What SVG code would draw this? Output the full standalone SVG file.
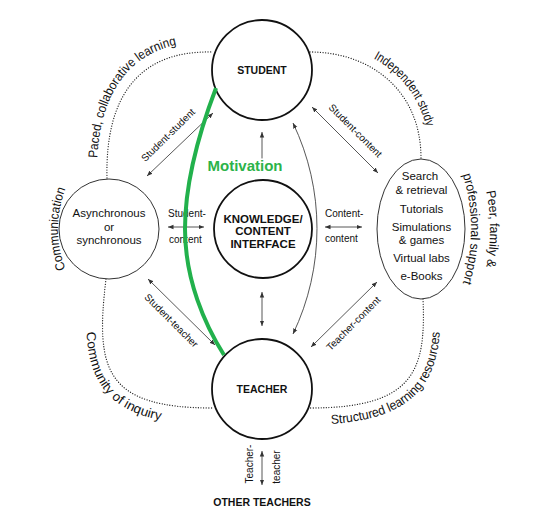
<svg xmlns="http://www.w3.org/2000/svg" width="539" height="517" viewBox="0 0 539 517">
<defs>
<marker id="ah" viewBox="0 0 10 10" refX="10" refY="5" markerWidth="5.5" markerHeight="5.5" markerUnits="userSpaceOnUse" orient="auto-start-reverse"><path d="M0,1 L10,5 L0,9 z" fill="#333"/></marker>
<path id="p-paced" d="M97,178 C95,87 135,39 213,42"/>
<path id="p-indep" d="M310,43 C376,43 430,86 430,158"/>
<path id="p-comm" d="M168,339 A110,110 0 0 1 168,119"/>
<path id="p-peer" d="M463,129 A199,199 0 0 1 463,329"/>
<path id="p-prof" d="M440.7,129 A180,180 0 0 1 440.7,329"/>
<path id="p-inq" d="M89.5,279 C78,375 95,424.5 213,424.5"/>
<path id="p-struct" d="M310,424.5 C423,424.5 444,377 440,299"/>
</defs>
<style>
text{font-family:"Liberation Sans",Arial,sans-serif;fill:#111}
.dot{fill:none;stroke:#222;stroke-width:1.3;stroke-dasharray:0.01 2.6;stroke-linecap:round}
.main{fill:#fff;stroke:#111;stroke-width:1.8}
.sub{fill:#fff;stroke:#333;stroke-width:1}
.con{fill:none;stroke:#444;stroke-width:0.9;marker-start:url(#ah);marker-end:url(#ah)}
.title{font-weight:bold;font-size:10.5px;text-anchor:middle}
.lab{font-size:10px}
.arc{font-size:13px}
.node{font-size:11.5px;text-anchor:middle}
.green{fill:none;stroke:#22b14c;stroke-width:4}
</style>
<rect width="539" height="517" fill="#fff"/>
<g id="ring">
<path class="dot" d="M107,178 C105,95 140,50 213,52"/>
<path class="dot" d="M310,52 C370,52 421,90 421,158"/>
<path class="dot" d="M106,279 C95,370 105,408 213,408"/>
<path class="dot" d="M423,299 C426,370 415,408 310,408"/>
</g>
<g id="ring-labels" class="arc">
<text><textPath href="#p-paced" startOffset="20" textLength="150" lengthAdjust="spacingAndGlyphs">Paced, collaborative learning</textPath></text>
<text><textPath href="#p-indep" startOffset="66" textLength="89" lengthAdjust="spacingAndGlyphs">Independent study</textPath></text>
<text text-anchor="middle"><textPath href="#p-comm" startOffset="50%" textLength="82" lengthAdjust="spacingAndGlyphs">Communication</textPath></text>
<text text-anchor="middle"><textPath href="#p-peer" startOffset="50%" textLength="76" lengthAdjust="spacingAndGlyphs">Peer, family &amp;</textPath></text>
<text text-anchor="middle"><textPath href="#p-prof" startOffset="50%" textLength="110" lengthAdjust="spacingAndGlyphs">professional support</textPath></text>
<text><textPath href="#p-inq" startOffset="53" textLength="127" lengthAdjust="spacingAndGlyphs">Community of inquiry</textPath></text>
<text><textPath href="#p-struct" startOffset="21" textLength="160" lengthAdjust="spacingAndGlyphs">Structured learning resources</textPath></text>
</g>
<g id="student">
<circle class="main" cx="262" cy="70" r="50"/>
<text class="title" x="262" y="74">STUDENT</text>
</g>
<g id="teacher">
<circle class="main" cx="262" cy="389" r="50"/>
<text class="title" x="262" y="393">TEACHER</text>
</g>
<g id="knowledge">
<circle class="main" cx="263" cy="229" r="49"/>
<text class="title" style="font-size:11.5px" x="263" y="222.5">KNOWLEDGE/</text>
<text class="title" style="font-size:11.5px" x="263" y="235">CONTENT</text>
<text class="title" style="font-size:11.5px" x="263" y="247.5">INTERFACE</text>
</g>
<g id="communication-node">
<circle class="sub" cx="109" cy="229" r="50"/>
<text class="node" x="109" y="217">Asynchronous</text>
<text class="node" x="109" y="231">or</text>
<text class="node" x="109" y="244">synchronous</text>
</g>
<g id="resources">
<ellipse class="sub" cx="421" cy="229" rx="44" ry="70"/>
<text class="node" x="420" y="180">Search</text>
<text class="node" x="421.5" y="194">&amp; retrieval</text>
<text class="node" x="421.5" y="213">Tutorials</text>
<text class="node" x="421.5" y="231">Simulations</text>
<text class="node" x="421.5" y="244">&amp; games</text>
<text class="node" x="421.5" y="262">Virtual labs</text>
<text class="node" x="421.5" y="280">e-Books</text>
</g>
<g id="other-teachers">
<text class="title" x="262" y="506">OTHER TEACHERS</text>
</g>
<g id="connectors">
<path class="con" d="M213,113 L147,176"/>
<path class="con" d="M312,107 L378,173"/>
<path class="con" d="M148,279 L215,345"/>
<path class="con" d="M377,282 L311,347"/>
<path class="con" d="M168,227 L204,227"/>
<path class="con" d="M325,227 L362,227"/>
<path class="con" d="M262,292 L262,326"/>
<path class="con" d="M262,451 L262,485"/>
<path class="con" style="marker-end:none" d="M262,132 L262,166"/>
<path class="con" d="M293,123 A244,244 0 0 1 293,334"/>
</g>
<g id="connector-labels" class="lab">
<text transform="translate(170.5,137.5) rotate(-44.5)" text-anchor="middle">Student-student</text>
<text transform="translate(353,133) rotate(45)" text-anchor="middle">Student-content</text>
<text transform="translate(169,323) rotate(45)" text-anchor="middle">Student-teacher</text>
<text transform="translate(355.8,326) rotate(-45)" text-anchor="middle">Teacher-content</text>
<text x="168" y="217">Student-</text>
<text x="169" y="243">content</text>
<text x="325" y="217">Content-</text>
<text x="325" y="242">content</text>
<text transform="translate(252.5,464) rotate(-90)" text-anchor="middle">Teacher-</text>
<text transform="translate(280,467) rotate(-90)" text-anchor="middle">teacher</text>
</g>
<g id="motivation">
<path class="green" d="M216,88 C200,130 185,180 185,229 C185,280 205,325 224,355"/>
<text x="245" y="171" text-anchor="middle" style="font-weight:bold;font-size:15px;fill:#2cb34a;stroke:#fff;stroke-width:3;paint-order:stroke">Motivation</text>
</g>
</svg>
